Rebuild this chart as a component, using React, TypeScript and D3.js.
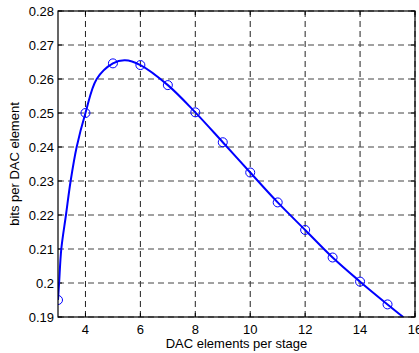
import React from "react";
import * as d3 from "d3";

const markerX = [3, 4, 5, 6, 7, 8, 9, 10, 11, 12, 13, 14, 15];
const markerY = [0.195, 0.25, 0.2646, 0.2641, 0.2582, 0.2502, 0.2414, 0.2325, 0.2237, 0.2156, 0.2075, 0.2004, 0.1937];
const curveX = [3, 3.04, 3.12, 3.29, 3.46, 3.68, 4, 4.41, 5, 5.44, 6, 7, 8, 9, 10, 11, 12, 13, 14, 15, 15.57];
const curveY = [0.195, 0.2, 0.21, 0.22, 0.23, 0.24, 0.25, 0.26, 0.2646, 0.2655, 0.2641, 0.2582, 0.2502, 0.2414, 0.2325, 0.2237, 0.2156, 0.2075, 0.2004, 0.1937, 0.19];
const xTicks = [4, 6, 8, 10, 12, 14, 16];
const yTicks = [0.19, 0.2, 0.21, 0.22, 0.23, 0.24, 0.25, 0.26, 0.27, 0.28];
const yTickLabels = ["0.19", "0.2", "0.21", "0.22", "0.23", "0.24", "0.25", "0.26", "0.27", "0.28"];

export default function App() {
  const W = 419, H = 353;
  const L = 58, R = 415, T = 11, B = 317;
  const x = d3.scaleLinear().domain([3, 16]).range([L, R]);
  const y = d3.scaleLinear().domain([0.19, 0.28]).range([B, T]);
  const pts: [number, number][] = curveX.map((v, i) => [v, curveY[i]]);
  const line = d3.line<[number, number]>().x(d => x(d[0])).y(d => y(d[1])).curve(d3.curveCatmullRom.alpha(0.5));
  const font = "Liberation Sans, Arial, sans-serif";
  return (
    <svg width={W} height={H} style={{ position: "absolute", left: 0, top: 0 }} fontFamily={font}>
      <rect x={0} y={0} width={W} height={H} fill="#fff" />
      <defs>
        <clipPath id="clip"><rect x={L} y={T} width={R - L} height={B - T} /></clipPath>
      </defs>
      {xTicks.map(t => (
        <line key={"gx" + t} x1={x(t)} x2={x(t)} y1={B} y2={T} stroke="#222" strokeWidth={1} strokeDasharray="6,4" />
      ))}
      {yTicks.map(t => (
        <line key={"gy" + t} x1={L} x2={R} y1={y(t)} y2={y(t)} stroke="#444" strokeWidth={1} strokeDasharray="6,4" />
      ))}
      {xTicks.map(t => (
        <g key={"tx" + t}>
          <line x1={x(t)} x2={x(t)} y1={B} y2={B - 4} stroke="#000" />
          <line x1={x(t)} x2={x(t)} y1={T} y2={T + 4} stroke="#000" />
          <text x={x(t)} y={B + 17} fontSize={13} textAnchor="middle" fill="#000">{t}</text>
        </g>
      ))}
      {yTicks.map((t, i) => (
        <g key={"ty" + t}>
          <line x1={L} x2={L + 4} y1={y(t)} y2={y(t)} stroke="#000" />
          <line x1={R} x2={R - 4} y1={y(t)} y2={y(t)} stroke="#000" />
          <text x={L - 4} y={y(t) + 4.5} fontSize={13} textAnchor="end" fill="#000">{yTickLabels[i]}</text>
        </g>
      ))}
      <g clipPath="url(#clip)">
        <path d={line(pts) || ""} fill="none" stroke="#0000ff" strokeWidth={2} />
        {markerX.map((v, i) => (
          <circle key={"m" + v} cx={x(v)} cy={y(markerY[i])} r={4.5} fill="none" stroke="#0000ff" strokeWidth={1} />
        ))}
      </g>
      <rect x={L} y={T} width={R - L} height={B - T} fill="none" stroke="#000" strokeWidth={1.2} />
      <text x={(L + R) / 2} y={348} fontSize={13} textAnchor="middle" fill="#000">DAC elements per stage</text>
      <text transform={`translate(19,${(T + B) / 2}) rotate(-90)`} fontSize={13} textAnchor="middle" fill="#000">bits per DAC element</text>
    </svg>
  );
}
